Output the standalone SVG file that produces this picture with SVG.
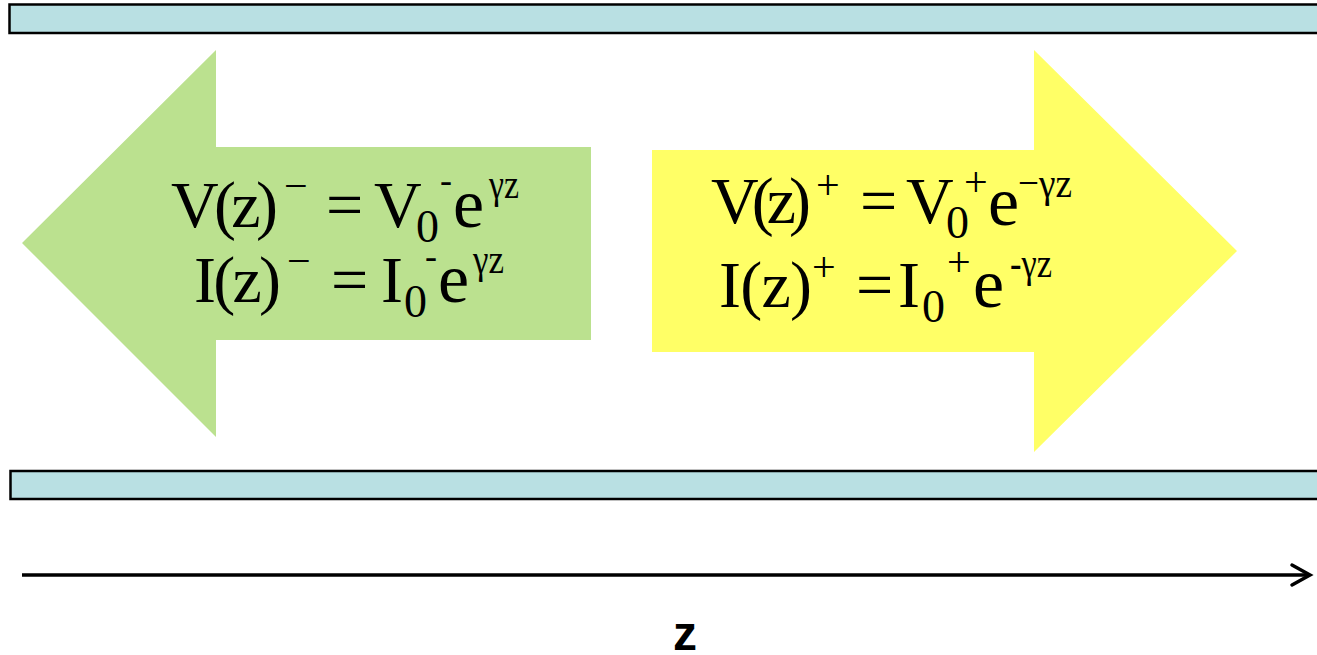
<svg xmlns="http://www.w3.org/2000/svg" width="1317" height="655" viewBox="0 0 1317 655">
<style>
.bar{fill:#B9E0E3;stroke:#000;stroke-width:2.5}
.m{font-family:"Liberation Serif","Times New Roman",serif;font-size:66px;fill:#000}
.e{font-family:"Liberation Serif","Times New Roman",serif;font-size:70px;fill:#000}
.s{font-family:"Liberation Serif","Times New Roman",serif;font-size:42px;fill:#000}
.h{font-family:"Liberation Serif","Times New Roman",serif;font-size:36px;fill:#000}
.d{font-family:"Liberation Serif","Times New Roman",serif;font-size:46px;fill:#000}
.ax{stroke:#000;stroke-width:3.5;fill:none}
</style>
<rect width="1317" height="655" fill="#fff"/>
<g id="top-conductor"><rect class="bar" x="9.5" y="4.5" width="1320" height="28.5"/></g>
<g id="bottom-conductor"><rect class="bar" x="10.5" y="471" width="1320" height="28"/></g>
<g id="backward-wave">
<polygon points="22,243 216,50 216,147 591,147 591,340 216,340 216,437" fill="#BBE18F"/>
<text class="m" x="171" y="227" textLength="107" lengthAdjust="spacing">V(z)</text>
<text class="s" x="284" y="200">−</text>
<text class="m" x="326" y="227">=</text>
<text class="m" x="374" y="227">V</text>
<text class="d" x="416" y="242">0</text>
<text class="h" x="440" y="192">-</text>
<text class="e" x="453" y="227">e</text>
<text class="s" x="489" y="198" textLength="30" lengthAdjust="spacingAndGlyphs">γz</text>
<text class="m" x="194" y="302" textLength="87" lengthAdjust="spacing">I(z)</text>
<text class="s" x="287" y="275">−</text>
<text class="m" x="331" y="302">=</text>
<text class="m" x="381" y="302">I</text>
<text class="d" x="404" y="317">0</text>
<text class="h" x="425" y="268">-</text>
<text class="e" x="438" y="302">e</text>
<text class="s" x="473" y="273" textLength="31" lengthAdjust="spacingAndGlyphs">γz</text>
</g>
<g id="forward-wave">
<polygon points="652,150 1034,150 1034,50 1237,251 1034,452 1034,352 652,352" fill="#FFFF66"/>
<text class="m" x="711" y="223" textLength="100" lengthAdjust="spacing">V(z)</text>
<text class="s" x="816" y="199">+</text>
<text class="m" x="860" y="223">=</text>
<text class="m" x="906" y="223">V</text>
<text class="d" x="946" y="238">0</text>
<text class="s" x="964" y="196">+</text>
<text class="e" x="988" y="225">e</text>
<text class="s" x="1018" y="197" textLength="54" lengthAdjust="spacingAndGlyphs">−γz</text>
<text class="m" x="719" y="307" textLength="93" lengthAdjust="spacing">I(z)</text>
<text class="s" x="812" y="281">+</text>
<text class="m" x="856" y="307">=</text>
<text class="m" x="898" y="307">I</text>
<text class="d" x="922" y="322">0</text>
<text class="s" x="947" y="276">+</text>
<text class="e" x="973" y="307">e</text>
<text class="s" x="1010" y="277" textLength="42" lengthAdjust="spacingAndGlyphs">-γz</text>
</g>
<g id="connectors">
<line class="ax" x1="22" y1="575" x2="1308" y2="575"/>
<polyline class="ax" points="1292,565 1310,575 1292,585" stroke-linecap="round" stroke-linejoin="miter"/>
</g>
<g id="axis-label"><text x="685" y="650" text-anchor="middle" font-family="Liberation Sans,Arial,sans-serif" font-weight="bold" font-size="48">z</text></g>
</svg>
